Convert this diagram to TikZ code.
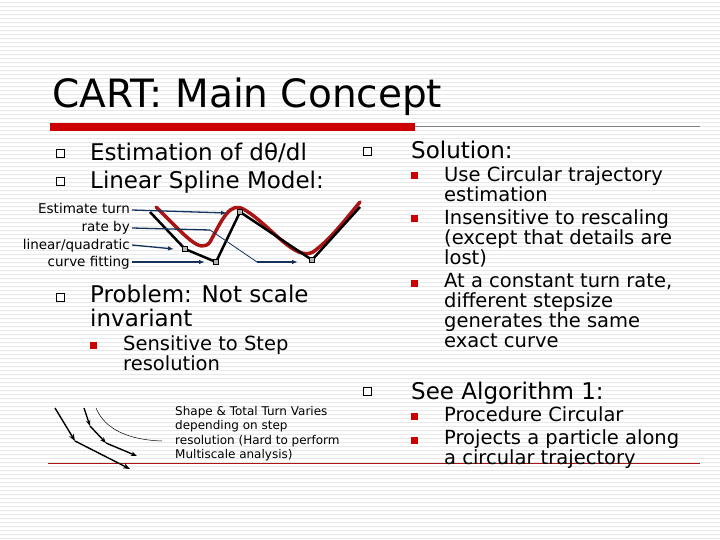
\documentclass[tikz,border=0pt]{standalone}
\usepackage{fontspec}
\setmainfont{DejaVu Sans}
\usetikzlibrary{arrows.meta}
\definecolor{cred}{RGB}{204,0,0}
\definecolor{cnavy}{RGB}{20,50,90}
\definecolor{dred}{RGB}{170,20,20}
\begin{document}
\begin{tikzpicture}[x=1pt,y=-1pt,
  txt/.style={anchor=base west,inner sep=0pt,font=\fontsize{23}{23.5}\selectfont},
  stxt/.style={anchor=base west,inner sep=0pt,font=\fontsize{19.5}{20}\selectfont},
  hb/.style={draw=black,fill=white,minimum size=8pt,inner sep=0pt,line width=0.8pt},
  rb/.style={fill=cred,minimum size=7pt,inner sep=0pt},
  lab/.style={anchor=base east,inner sep=0pt,font=\fontsize{13.5}{14}\selectfont},
  nav/.style={draw=cnavy,line width=1.3pt,-{Latex[length=6pt]}},
  pt/.style={draw=black,fill=gray!60,minimum size=5pt,inner sep=0pt}]
\useasboundingbox (0,0) rectangle (720,540);
\fill[white] (0,0) rectangle (720,540);
\foreach \y in {2,6,...,538} \draw[black!9,line width=0.5pt] (0,\y) -- (720,\y);
\node[anchor=base west,inner sep=0pt,font=\fontsize{39}{40}\selectfont] (title) at (52,108) {CART: Main Concept};
\draw[gray,line width=1pt] (50,127) -- (700,127);
\fill[cred] (50,123.5) rectangle (415,131);
\draw[dred,line width=0.8pt] (48,463) -- (700,463);
% left bullets
\node[hb] (b1) at (60,153) {}; \node[txt] (t1) at (90,161) {Estimation of dθ/dl};
\node[hb] (b2) at (60,181) {}; \node[txt] (t2) at (90,189) {Linear Spline Model:};
\node[hb] (b3) at (60,297) {};
\node[txt,align=left,anchor=north west] (t3) at (90,285) {Problem: Not scale\\invariant};
\node[rb] (r0) at (93,345) {};
\node[stxt,anchor=north west,align=left] (t4) at (123,335) {Sensitive to Step\\resolution};
% right
\node[hb] (b4) at (367,151) {}; \node[txt] (t5) at (411,159) {Solution:};
\node[rb] (r1) at (414,176) {};
\node[stxt,anchor=north west,align=left] (t6) at (444,166) {Use Circular trajectory\\estimation};
\node[rb] (r2) at (414,219) {};
\node[stxt,anchor=north west,align=left] (t7) at (444,209) {Insensitive to rescaling\\(except that details are\\lost)};
\node[rb] (r3) at (414,283) {};
\node[stxt,anchor=north west,align=left] (t8) at (444,273) {At a constant turn rate,\\different stepsize\\generates the same\\exact curve};
\node[hb] (b5) at (367,391) {}; \node[txt] (t9) at (411,399) {See Algorithm 1:};
\node[rb] (r4) at (414,416) {};
\node[stxt,anchor=north west,align=left] (t10) at (444,406) {Procedure Circular};
\node[rb] (r5) at (414,440) {};
\node[stxt,anchor=north west,align=left] (t11) at (444,429) {Projects a particle along\\a circular trajectory};
% sketch 1
\draw[dred,line width=3.5pt,line cap=round] (156,207) .. controls (185,235) and (200,255) .. (210,242) .. controls (222,220) and (230,200) .. (245,210) .. controls (270,225) and (295,262) .. (313,252) .. controls (330,240) and (345,220) .. (360,202);
\coordinate (s0) at (150,212);
\node[pt] (p1) at (185,249) {};
\node[pt] (p2) at (216,262) {};
\node[pt] (p3) at (240,212) {};
\node[pt] (p4) at (312,260) {};
\coordinate (s5) at (360,207);
\draw[line width=2.5pt] (s0) -- (p1.center) -- (p2.center) -- (p3.center) -- (p4.center) -- (s5);
\node[pt] at (p1) {}; \node[pt] at (p2) {}; \node[pt] at (p3) {}; \node[pt] at (p4) {};
\node[lab] (l1) at (130,214) {Estimate turn};
\node[lab] (l2) at (130,232) {rate by};
\node[lab] (l3) at (130,249) {linear/quadratic};
\node[lab] (l4) at (130,266) {curve fitting};
\coordinate (a1) at (227,213); \coordinate (a3) at (174,249); \coordinate (a4) at (205,262);
\coordinate (k1) at (210,230); \coordinate (k2) at (257,262); \coordinate (a2) at (298,262);
\draw[nav] (l1.base east) ++(2,-4) -- (a1);
\draw[nav,-] (l2.base east) ++(2,-4) -- (k1);
\draw[draw=cnavy,line width=0.8pt] (k1) -- (k2);
\draw[nav] (k2) -- (a2);
\draw[nav] (l3.base east) ++(2,-4) -- (a3);
\draw[nav] (l4.base east) ++(2,-4) -- (a4);
% sketch 2
\coordinate (q0) at (55,408); \coordinate (q1) at (75,441); \coordinate (q2) at (130,469);
\draw[line width=1.4pt,-{Stealth[length=7pt]}] (q0) -- (q1);
\draw[line width=1.4pt,-{Stealth[length=7pt]}] (q1) -- (q2);
\coordinate (w0) at (84,408); \coordinate (w1) at (90,426); \coordinate (w2) at (106,443); \coordinate (w3) at (137,456);
\draw[line width=1.4pt,-{Stealth[length=6pt]}] (w0) -- (w1);
\draw[line width=1.4pt,-{Stealth[length=6pt]}] (w1) -- (w2);
\draw[line width=1.4pt,-{Stealth[length=6pt]}] (w2) -- (w3);
\draw[line width=0.5pt] (96,408) .. controls (105,430) and (130,440) .. (162,441);
\node[anchor=north west,align=left,inner sep=0pt,font=\fontsize{12}{14.5}\selectfont] (cap) at (175,406) {Shape \& Total Turn Varies\\depending on step\\resolution (Hard to perform\\Multiscale analysis)};
\end{tikzpicture}
\end{document}
